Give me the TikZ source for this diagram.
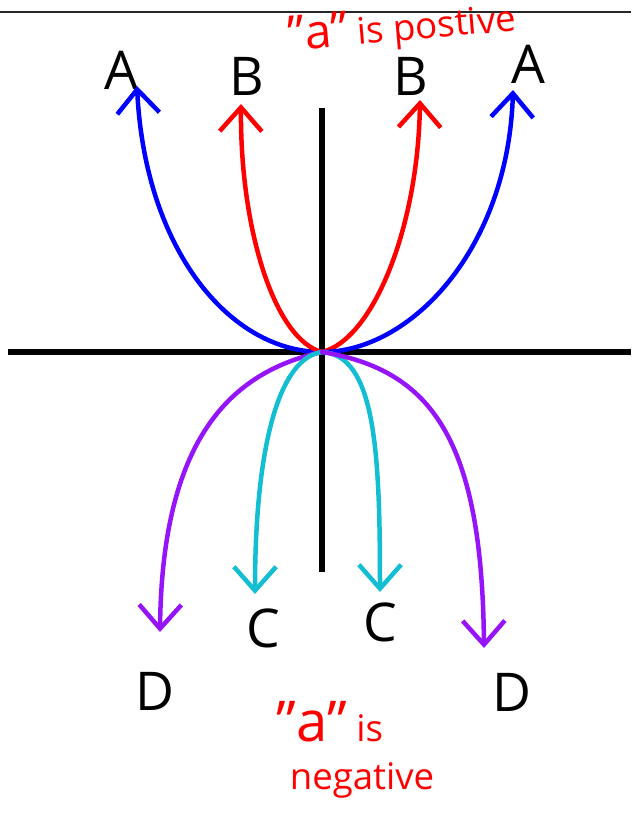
\documentclass[tikz,border=0pt]{standalone}
\usepackage{fontspec}
\setmainfont{Open Sans}
\usetikzlibrary{arrows.meta}
\definecolor{purp}{RGB}{150,20,250}
\definecolor{cyanline}{RGB}{20,190,210}

\begin{document}
\begin{tikzpicture}[x=0.025cm, y=-0.025cm]
\tikzstyle{axis}=[line width=4.2pt, black]
\tikzstyle{curve}=[line width=3.2pt, line cap=round,
  -{Straight Barb[length=17pt, width=30pt]}]
\tikzstyle{letter}=[font=\fontsize{38}{42}\selectfont]
\tikzstyle{note}=[text=red, font=\fontsize{26}{30}\selectfont]

\useasboundingbox (0,0) rectangle (631,827);
\draw[line width=1pt, black!85] (0,12) -- (631,12);

% axes
\coordinate (O) at (322,352);
\coordinate (xl) at (8,352);
\coordinate (xr) at (631,352);
\coordinate (yt) at (322,108);
\coordinate (yb) at (322,572);
\draw[axis] (xl) -- (xr);
\draw[axis] (yt) -- (yb);

% labels
\node (A1) [letter] at (121,70) {A};
\node (B1) [letter] at (247,76) {B};
\node (B2) [letter] at (411,76) {B};
\node (A2) [letter] at (528,64) {A};
\node (C1) [letter] at (263,628) {C};
\node (C2) [letter] at (380,622) {C};
\node (D1) [letter] at (155,691) {D};
\node (D2) [letter] at (512,692) {D};

\node (pos) [note, rotate=5, inner sep=1pt] at (402,28)
  {{\fontsize{34}{36}\selectfont"a"} is postive};
\node (neg1) [note] at (330,722)
  {{\fontsize{40}{44}\selectfont"a"} is};
\node (neg2) [note] at (362,780) {negative};

% arrow tips
\coordinate (tA1) at (137,86);
\coordinate (tB1) at (241,104);
\coordinate (tB2) at (420,100);
\coordinate (tA2) at (513,90);
\coordinate (tC1) at (255,594);
\coordinate (tC2) at (380,592);
\coordinate (tD1) at (160,632);
\coordinate (tD2) at (484,648);

% "a" positive
\draw[curve, blue] (O) .. controls (230,352) and (145,250) .. (tA1);
\draw[curve, red] (O) .. controls (275,340) and (240,230) .. (tB1);
\draw[curve, red] (O) .. controls (372,340) and (418,230) .. (tB2);
\draw[curve, blue] (O) .. controls (410,352) and (508,250) .. (tA2);

% "a" negative
\draw[curve, purp] (O) .. controls (230,372) and (162,440) .. (tD1);
\draw[curve, cyanline] (O) .. controls (278,358) and (255,450) .. (tC1);
\draw[curve, cyanline] (O) .. controls (375,355) and (380,450) .. (tC2);
\draw[curve, purp] (O) .. controls (432,370) and (482,440) .. (tD2);
\end{tikzpicture}
\end{document}
